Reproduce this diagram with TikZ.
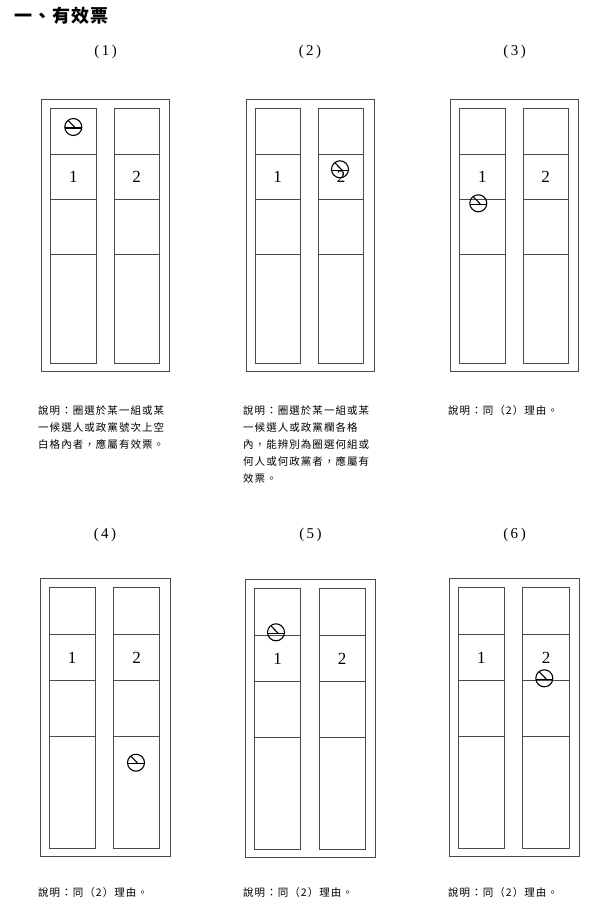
\documentclass[tikz,border=0pt]{standalone}
\usepackage{fontspec}
\setmainfont{Liberation Serif}
\newfontfamily\cjk[LetterSpace=10]{Noto Sans CJK TC}
\newfontfamily\cjkt[LetterSpace=6]{Noto Sans CJK TC}
\definecolor{lne}{HTML}{4A4A4A}
\tikzset{
  bline/.style={draw=lne, line width=1pt},
  sline/.style={draw=black, line width=1.1pt},
  num/.style={font=\fontsize{17}{17}\selectfont, inner sep=0pt},
  lbl/.style={font=\fontsize{15}{15}\selectfont, inner sep=0pt},
  captxt/.style={font=\cjk\fontsize{10.5}{10.5}\selectfont, inner sep=0pt, anchor=base west},
  ballot/.pic={
    \draw[bline] (0,0) rectangle (128,272);
    \draw[bline] (9,9) rectangle (54.3,264);
    \draw[bline] (72.3,9) rectangle (117.6,264);
    \foreach \yy in {54.7,100,154.7} {
      \draw[bline] (9,\yy) -- (54.3,\yy);
      \draw[bline] (72.3,\yy) -- (117.6,\yy);
    }
    \node[num] (-one) at (31.6,77.7) {1};
    \node[num] (-two) at (95,77.7) {2};
  },
  stamp/.pic={
    \draw[sline] (0,0) circle (8.5);
    \draw[sline] (-8.45,1) -- (8.45,1);
    \draw[sline] (-4.8,-6.2) -- (2.2,1);
  }
}
\begin{document}
\begin{tikzpicture}[x=1pt,y=-1pt]
\useasboundingbox (0,0) rectangle (600,913);
\node[font=\cjkt\bfseries\fontsize{18}{18}\selectfont, inner sep=0pt, anchor=west] (title) at (14,16) {一、有效票};

% labels
\node[lbl] (l1) at (105.7,52) {(\,1\,)};
\node[lbl] (l2) at (310,52) {(\,2\,)};
\node[lbl] (l3) at (514.7,52) {(\,3\,)};
\node[lbl] (l4) at (105,535) {(\,4\,)};
\node[lbl] (l5) at (310.5,535) {(\,5\,)};
\node[lbl] (l6) at (514.5,535) {(\,6\,)};

% ballots
\pic (b1) at (41.7,99.3) {ballot};
\pic (b2) at (246,99.3) {ballot};
\pic (b3) at (450.7,99.3) {ballot};
\pic[xscale=1.018,yscale=1.023] (b4) at (40,578.3) {ballot};
\pic[xscale=1.018,yscale=1.023] (b5) at (245.5,579.3) {ballot};
\pic[xscale=1.018,yscale=1.023] (b6) at (449.3,578.5) {ballot};

% stamps
\pic (s1) at (73.3,127) {stamp};
\pic (s2) at (340,169.3) {stamp};
\pic (s3) at (478.3,203.3) {stamp};
\pic (s4) at (136,762.7) {stamp};
\pic (s5) at (276,632.3) {stamp};
\pic (s6) at (544.3,678.3) {stamp};

% captions
\node[captxt] (c1a) at (38,414.5) {說明：圈選於某一組或某};
\node[captxt] (c1b) at (38,431.5) {一候選人或政黨號次上空};
\node[captxt] (c1c) at (38,448.8) {白格內者，應屬有效票。};

\node[captxt] (c2a) at (243,414.5) {說明：圈選於某一組或某};
\node[captxt] (c2b) at (243,431.5) {一候選人或政黨欄各格};
\node[captxt] (c2c) at (243,448.8) {內，能辨別為圈選何組或};
\node[captxt] (c2d) at (243,465.5) {何人或何政黨者，應屬有};
\node[captxt] (c2e) at (243,482) {效票。};

\node[captxt] (c3) at (448,414.5) {說明：同（2）理由。};
\node[captxt] (c4) at (38,896.5) {說明：同（2）理由。};
\node[captxt] (c5) at (243,896.5) {說明：同（2）理由。};
\node[captxt] (c6) at (448,896.5) {說明：同（2）理由。};
\end{tikzpicture}
\end{document}
